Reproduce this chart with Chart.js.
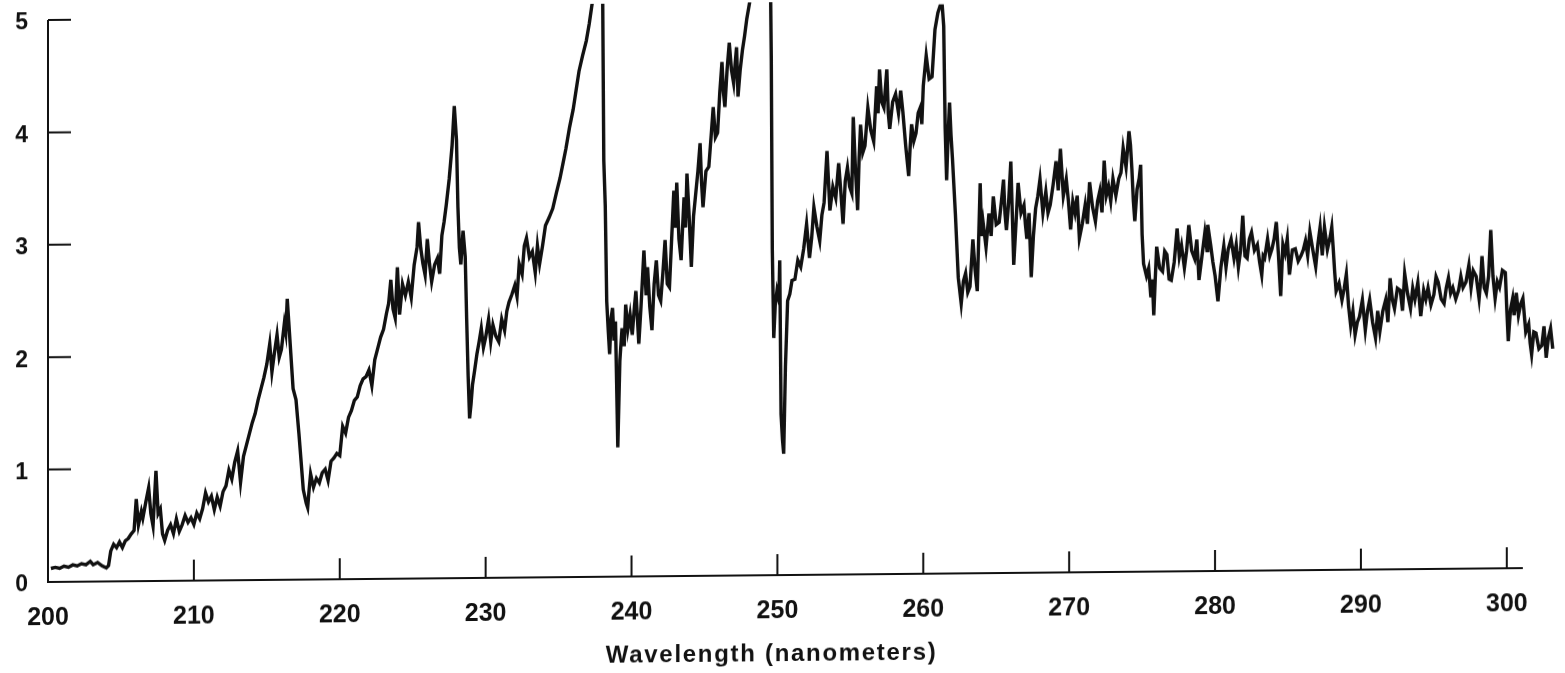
<!DOCTYPE html>
<html>
<head>
<meta charset="utf-8">
<title>Absorption spectrum</title>
<script src="https://cdn.jsdelivr.net/npm/chart.js@4.4.1/dist/chart.umd.min.js"></script>
<style>
    html, body { margin: 0; padding: 0; background: #fff; }
    #wrap { width: 1565px; height: 673px; }
    /* the scanned figure is slightly tilted: right end sits higher */
    #spectrum { transform: skewY(-0.54deg); transform-origin: 48px 582px; }
</style>
</head>
<body>
<div id="wrap"><canvas id="spectrum"></canvas></div>
<script>
// wavelength (nm) and signal
const wavelength = [
    200.2, 200.5, 200.8, 201.1, 201.4, 201.7, 202.0, 202.3, 202.6, 202.9, 203.1, 203.4, 203.7, 204.0, 204.15,
    204.3, 204.5, 204.7, 204.9, 205.1, 205.3, 205.5, 205.7, 205.9, 206.05, 206.2, 206.4, 206.5, 206.7, 206.9,
    207.05, 207.2, 207.4, 207.55, 207.7, 207.85, 208.0, 208.2, 208.4, 208.6, 208.8, 209.0, 209.2, 209.4, 209.6,
    209.8, 210.0, 210.2, 210.4, 210.6, 210.8, 211.0, 211.2, 211.4, 211.6, 211.8, 212.0, 212.2, 212.4, 212.6,
    212.8, 213.0, 213.2, 213.4, 213.6, 213.8, 214.0, 214.2, 214.4, 214.6, 214.8, 215.0, 215.2, 215.35, 215.5,
    215.7, 215.85, 216.0, 216.2, 216.3, 216.4, 216.5, 216.6, 216.8, 217.0, 217.2, 217.35, 217.5, 217.7, 217.8,
    217.9, 218.0, 218.2, 218.4, 218.6, 218.8, 219.0, 219.2, 219.4, 219.6, 219.8, 220.0, 220.2, 220.4, 220.6,
    220.8, 221.0, 221.2, 221.4, 221.6, 221.8, 222.0, 222.2, 222.4, 222.6, 222.8, 223.0, 223.2, 223.35, 223.5,
    223.65, 223.8, 223.95, 224.1, 224.3, 224.5, 224.7, 224.9, 225.1, 225.3, 225.4, 225.55, 225.7, 225.85, 226.0,
    226.15, 226.3, 226.5, 226.7, 226.85, 227.0, 227.15, 227.3, 227.5, 227.7, 227.85, 228.0, 228.1, 228.2, 228.3,
    228.45, 228.6, 228.7, 228.8, 228.9, 229.0, 229.1, 229.25, 229.4, 229.55, 229.7, 229.85, 230.0, 230.2, 230.35,
    230.5, 230.7, 230.9, 231.1, 231.3, 231.45, 231.6, 231.8, 232.0, 232.15, 232.3, 232.5, 232.65, 232.8, 233.0,
    233.2, 233.4, 233.55, 233.7, 233.9, 234.1, 234.35, 234.6, 234.85, 235.1, 235.3, 235.5, 235.75, 236.0, 236.2,
    236.4, 236.65, 236.9, 237.1, 237.3, 237.5,
    238.0, 238.1, 238.2, 238.3, 238.4, 238.5, 238.6, 238.7, 238.8, 238.9, 239.06, 239.2, 239.35, 239.5, 239.6,
    239.75, 239.9, 240.05, 240.2, 240.3, 240.5, 240.65, 240.85, 241.0, 241.1, 241.25, 241.4, 241.55, 241.7, 241.85,
    242.0, 242.15, 242.3, 242.45, 242.6, 242.75, 242.9, 243.0, 243.1, 243.25, 243.4, 243.5, 243.6, 243.7, 243.8,
    243.95, 244.1, 244.25, 244.4, 244.55, 244.7, 244.8, 244.9, 245.1, 245.3, 245.45, 245.6, 245.75, 245.9, 246.05,
    246.2, 246.3, 246.4, 246.55, 246.7, 246.85, 247.0, 247.1, 247.2, 247.3, 247.45, 247.6, 247.75, 247.9, 248.1,
    248.3,
    249.5, 249.58, 249.65, 249.75, 249.85, 249.97, 250.1, 250.16, 250.25, 250.35, 250.43, 250.55, 250.7, 250.85, 251.0,
    251.2, 251.4, 251.6, 251.8, 252.0, 252.2, 252.35, 252.5, 252.7, 252.9, 253.05, 253.2, 253.4, 253.6, 253.8,
    254.0, 254.2, 254.35, 254.5, 254.65, 254.8, 254.95, 255.1, 255.2, 255.35, 255.5, 255.6, 255.7, 255.85, 256.0,
    256.2, 256.4, 256.6, 256.8, 256.9, 257.0, 257.15, 257.3, 257.5, 257.6, 257.7, 257.9, 258.1, 258.3, 258.45,
    258.6, 258.8, 259.0, 259.1, 259.2, 259.35, 259.5, 259.65, 259.8, 259.9, 260.0, 260.2, 260.4, 260.6, 260.8,
    261.0, 261.15, 261.3, 261.4, 261.5, 261.6, 261.7, 261.8, 261.9, 262.0, 262.2, 262.4, 262.6, 262.75, 262.9,
    263.05, 263.2, 263.4, 263.55, 263.7, 263.9, 264.0, 264.1, 264.3, 264.5, 264.65, 264.8, 265.0, 265.2, 265.35,
    265.5, 265.6, 265.7, 265.85, 266.0, 266.1, 266.2, 266.35, 266.5, 266.7, 266.9, 267.0, 267.1, 267.25, 267.4,
    267.55, 267.7, 267.85, 268.0, 268.2, 268.4, 268.55, 268.7, 268.9, 269.1, 269.25, 269.4, 269.6, 269.8, 269.95,
    270.1, 270.25, 270.4, 270.55, 270.7, 270.9, 271.1, 271.25, 271.4, 271.6, 271.8, 271.95, 272.1, 272.25, 272.4,
    272.55, 272.7, 272.85, 273.0, 273.2, 273.4, 273.55, 273.7, 273.9, 274.1, 274.2, 274.3, 274.4, 274.5, 274.65,
    274.8, 274.9, 275.0, 275.1, 275.3, 275.45, 275.6, 275.7, 275.8, 275.9, 276.0, 276.2, 276.4, 276.55, 276.7,
    276.85, 277.0, 277.2, 277.4, 277.55, 277.7, 277.9, 278.05, 278.2, 278.4, 278.6, 278.75, 278.9, 279.1, 279.3,
    279.45, 279.5, 279.7, 279.85, 280.0, 280.2, 280.4, 280.6, 280.75, 280.9, 281.1, 281.3, 281.45, 281.6, 281.75,
    281.9, 282.05, 282.2, 282.35, 282.5, 282.7, 282.9, 283.05, 283.2, 283.3, 283.4, 283.6, 283.75, 283.9, 284.05,
    284.2, 284.35, 284.5, 284.65, 284.8, 284.95, 285.1, 285.3, 285.5, 285.7, 285.9, 286.05, 286.2, 286.35, 286.5,
    286.7, 286.9, 287.05, 287.2, 287.35, 287.5, 287.7, 287.9, 288.0, 288.1, 288.2, 288.3, 288.5, 288.7, 288.85,
    289.0, 289.15, 289.3, 289.45, 289.6, 289.75, 289.9, 290.1, 290.3, 290.45, 290.6, 290.8, 291.0, 291.15, 291.3,
    291.5, 291.7, 291.85, 292.0, 292.15, 292.3, 292.5, 292.7, 292.85, 293.0, 293.2, 293.4, 293.55, 293.7, 293.9,
    294.1, 294.3, 294.45, 294.6, 294.8, 295.0, 295.15, 295.3, 295.5, 295.7, 295.85, 296.0, 296.15, 296.3, 296.5,
    296.7, 296.85, 297.0, 297.2, 297.4, 297.55, 297.7, 297.9, 298.1, 298.2, 298.3, 298.45, 298.6, 298.75, 298.9,
    299.05, 299.2, 299.35, 299.5, 299.7, 299.9, 300.0, 300.1, 300.25, 300.4, 300.5, 300.65, 300.8, 300.95, 301.1,
    301.3, 301.5, 301.6, 301.7, 301.85, 302.0, 302.2, 302.4, 302.55, 302.7, 302.85, 303.0, 303.15
];
const signal = [
    0.12, 0.13, 0.12, 0.14, 0.13, 0.15, 0.14, 0.16, 0.15, 0.18, 0.15, 0.17, 0.14, 0.12, 0.14,
    0.27, 0.33, 0.30, 0.35, 0.30, 0.36, 0.38, 0.42, 0.45, 0.73, 0.50, 0.62, 0.56, 0.70, 0.83,
    0.60, 0.49, 0.98, 0.60, 0.64, 0.42, 0.36, 0.45, 0.50, 0.42, 0.55, 0.44, 0.50, 0.58, 0.52,
    0.56, 0.50, 0.60, 0.55, 0.64, 0.78, 0.70, 0.75, 0.63, 0.74, 0.66, 0.79, 0.84, 0.98, 0.90,
    1.05, 1.15, 0.87, 1.10, 1.20, 1.30, 1.40, 1.48, 1.60, 1.70, 1.80, 1.92, 2.10, 1.85, 2.00,
    2.18, 1.98, 2.05, 2.28, 2.20, 2.50, 2.30, 2.10, 1.70, 1.60, 1.30, 1.05, 0.80, 0.68, 0.64,
    0.80, 0.94, 0.82, 0.90, 0.86, 0.95, 0.98, 0.88, 1.05, 1.08, 1.12, 1.10, 1.36, 1.30, 1.44,
    1.50, 1.59, 1.62, 1.72, 1.78, 1.80, 1.86, 1.72, 1.95, 2.05, 2.15, 2.22, 2.36, 2.45, 2.66,
    2.40, 2.32, 2.77, 2.35, 2.62, 2.52, 2.64, 2.50, 2.79, 2.95, 3.17, 2.94, 2.80, 2.70, 3.02,
    2.80, 2.64, 2.79, 2.85, 2.71, 3.05, 3.17, 3.32, 3.55, 3.85, 4.20, 3.90, 3.30, 2.94, 2.79,
    3.09, 2.86, 2.30, 1.80, 1.42, 1.55, 1.72, 1.85, 1.99, 2.10, 2.22, 2.05, 2.14, 2.30, 2.10,
    2.25, 2.15, 2.10, 2.30, 2.20, 2.37, 2.45, 2.52, 2.60, 2.50, 2.79, 2.70, 2.95, 3.02, 2.85,
    2.90, 2.71, 2.95, 2.79, 2.95, 3.13, 3.20, 3.28, 3.42, 3.55, 3.68, 3.81, 4.00, 4.16, 4.33,
    4.50, 4.64, 4.77, 4.92, 5.10, 5.60,
    5.60, 3.70, 3.30, 2.45, 2.20, 1.98, 2.30, 2.39, 2.10, 2.27, 1.15, 1.92, 2.21, 2.05, 2.42,
    2.20, 2.33, 2.15, 2.40, 2.54, 2.07, 2.40, 2.90, 2.50, 2.75, 2.40, 2.19, 2.60, 2.81, 2.50,
    2.45, 2.70, 2.99, 2.60, 2.57, 3.00, 3.43, 3.10, 3.50, 3.00, 2.81, 3.10, 3.37, 3.10, 3.58,
    3.20, 2.75, 3.20, 3.40, 3.60, 3.85, 3.50, 3.28, 3.60, 3.64, 3.90, 4.17, 3.90, 3.94, 4.30,
    4.57, 4.30, 4.17, 4.50, 4.74, 4.50, 4.38, 4.55, 4.70, 4.26, 4.50, 4.67, 4.80, 4.95, 5.10,
    5.60,
    5.60, 4.60, 2.90, 2.11, 2.40, 2.53, 2.45, 2.80, 1.43, 1.20, 1.08, 1.85, 2.44, 2.50, 2.62,
    2.63, 2.80, 2.74, 2.90, 3.12, 2.82, 3.00, 3.27, 3.10, 2.97, 3.20, 3.31, 3.77, 3.24, 3.45,
    3.35, 3.66, 3.40, 3.12, 3.50, 3.62, 3.45, 3.39, 4.07, 3.60, 3.24, 3.70, 4.00, 3.75, 3.81,
    4.15, 3.95, 3.85, 4.34, 4.10, 4.49, 4.20, 4.15, 4.49, 4.10, 3.96, 4.20, 4.27, 4.10, 4.30,
    4.11, 3.80, 3.54, 3.80, 4.00, 3.85, 3.92, 4.10, 4.15, 4.00, 4.34, 4.61, 4.40, 4.42, 4.84,
    4.99, 5.05, 5.05, 4.87, 3.96, 3.50, 3.90, 4.19, 3.90, 3.69, 3.20, 2.63, 2.40, 2.60, 2.67,
    2.50, 2.55, 2.97, 2.70, 2.51, 3.47, 3.00, 3.12, 2.90, 3.20, 3.00, 3.35, 3.10, 3.12, 3.30,
    3.50, 3.20, 3.05, 3.30, 3.66, 3.20, 2.74, 3.10, 3.47, 3.20, 3.27, 3.10, 2.97, 3.20, 2.63,
    3.00, 3.24, 3.35, 3.50, 3.20, 3.39, 3.20, 3.27, 3.45, 3.66, 3.40, 3.77, 3.35, 3.50, 3.30,
    3.05, 3.30, 3.20, 3.35, 2.97, 3.10, 3.27, 3.10, 3.47, 3.25, 3.12, 3.30, 3.39, 3.20, 3.66,
    3.35, 3.43, 3.30, 3.50, 3.35, 3.50, 3.55, 3.77, 3.60, 3.92, 3.80, 3.58, 3.30, 3.12, 3.40,
    3.50, 3.62, 3.00, 2.74, 2.63, 2.70, 2.44, 2.60, 2.28, 2.60, 2.89, 2.70, 2.67, 2.85, 2.82,
    2.60, 2.59, 2.75, 3.05, 2.80, 2.90, 2.70, 2.85, 3.08, 2.85, 2.78, 2.95, 2.59, 2.80, 3.01,
    2.85, 3.08, 2.90, 2.75, 2.63, 2.40, 2.70, 2.89, 2.70, 2.86, 2.95, 2.78, 2.90, 2.70, 2.85,
    3.16, 2.80, 2.78, 2.95, 3.01, 2.85, 2.90, 2.75, 2.63, 2.80, 2.78, 2.95, 2.80, 2.86, 2.95,
    3.10, 2.80, 2.44, 2.90, 2.82, 2.95, 2.63, 2.85, 2.86, 2.75, 2.80, 2.85, 2.93, 2.80, 3.01,
    2.85, 2.70, 2.90, 3.05, 2.80, 3.05, 2.85, 2.97, 3.05, 2.86, 2.65, 2.48, 2.55, 2.40, 2.50,
    2.63, 2.35, 2.17, 2.30, 2.09, 2.20, 2.25, 2.40, 2.13, 2.30, 2.40, 2.20, 2.06, 2.30, 2.12,
    2.30, 2.40, 2.20, 2.59, 2.40, 2.32, 2.50, 2.48, 2.30, 2.63, 2.45, 2.32, 2.50, 2.40, 2.55,
    2.25, 2.48, 2.40, 2.50, 2.35, 2.44, 2.60, 2.55, 2.40, 2.36, 2.50, 2.59, 2.45, 2.50, 2.40,
    2.48, 2.60, 2.50, 2.55, 2.70, 2.50, 2.65, 2.60, 2.40, 2.55, 2.78, 2.50, 2.45, 2.60, 3.01,
    2.60, 2.40, 2.55, 2.50, 2.65, 2.63, 2.30, 2.02, 2.30, 2.40, 2.25, 2.45, 2.25, 2.35, 2.40,
    2.10, 2.17, 2.00, 1.90, 2.10, 2.09, 1.95, 1.98, 2.15, 1.87, 2.05, 2.13, 1.95
];
const xTicks = [200, 210, 220, 230, 240, 250, 260, 270, 280, 290, 300];
const yTicks = [0, 1, 2, 3, 4, 5];
const xAxisEnd = 301.1;   // the drawn x axis stops here, the trace goes on
const xTitle = 'Wavelength (nanometers)';

const FONT = '"Liberation Sans", Arial, Helvetica, sans-serif';
const INK = '#111';

// inward tick marks, L-shaped axes and the axis title
const paperAxes = {
    id: 'paperAxes',
    afterDraw(chart) {
        const { ctx, scales: { x, y } } = chart;
        const y0 = y.getPixelForValue(0);
        const yTop = y.getPixelForValue(5);
        const xL = x.getPixelForValue(200);
        const xR = x.getPixelForValue(xAxisEnd);

        ctx.save();
        ctx.strokeStyle = INK;
        ctx.lineWidth = 2;
        ctx.beginPath();
        ctx.moveTo(xL, yTop);
        ctx.lineTo(xL, y0);
        ctx.lineTo(xR, y0);
        xTicks.slice(1).forEach(v => {
            const px = x.getPixelForValue(v);
            ctx.moveTo(px, y0);
            ctx.lineTo(px, y0 - 21);
        });
        yTicks.slice(1).forEach(v => {
            const py = y.getPixelForValue(v);
            ctx.moveTo(xL, py);
            ctx.lineTo(xL + 23, py);
        });
        ctx.stroke();

        ctx.fillStyle = INK;
        ctx.font = 'bold 24px ' + FONT;
        ctx.letterSpacing = '1.7px';
        ctx.textAlign = 'center';
        ctx.textBaseline = 'alphabetic';
        ctx.fillText(xTitle, x.getPixelForValue(249.6), y0 + 86);
        ctx.restore();
    }
};

new Chart(document.getElementById('spectrum'), {
    type: 'line',
    data: {
        datasets: [{
            data: wavelength.map((w, i) => ({ x: w, y: signal[i] })),
            borderColor: INK,
            borderWidth: 3.4,
            pointRadius: 0,
            tension: 0,
            clip: { left: 4, top: 11, right: 4, bottom: 4 }
        }]
    },
    options: {
        responsive: true,
        maintainAspectRatio: false,
        animation: false,
        layout: { padding: { top: 20, right: 10, left: 0, bottom: 0 } },
        plugins: { legend: { display: false }, tooltip: { enabled: false } },
        scales: {
            x: {
                type: 'linear',
                min: 200,
                max: 303.3,
                afterBuildTicks: scale => { scale.ticks = xTicks.map(v => ({ value: v })); },
                afterFit: scale => { scale.height = 91; },
                grid: { display: false, drawTicks: false },
                border: { display: false },
                ticks: {
                    autoSkip: false,
                    maxRotation: 0,
                    padding: 21,
                    color: INK,
                    font: { family: FONT, size: 25, weight: 'bold' }
                }
            },
            y: {
                min: 0,
                max: 5,
                afterBuildTicks: scale => { scale.ticks = yTicks.map(v => ({ value: v })); },
                afterFit: scale => {
                    scale.width = 48;
                    scale.paddingTop = 0;
                    scale.paddingBottom = 0;
                },
                grid: { display: false, drawTicks: false },
                border: { display: false },
                ticks: {
                    padding: 20,
                    labelOffset: 3,
                    color: INK,
                    font: { family: FONT, size: 23, weight: 'bold' }
                }
            }
        }
    },
    plugins: [paperAxes]
});
</script>
</body>
</html>
